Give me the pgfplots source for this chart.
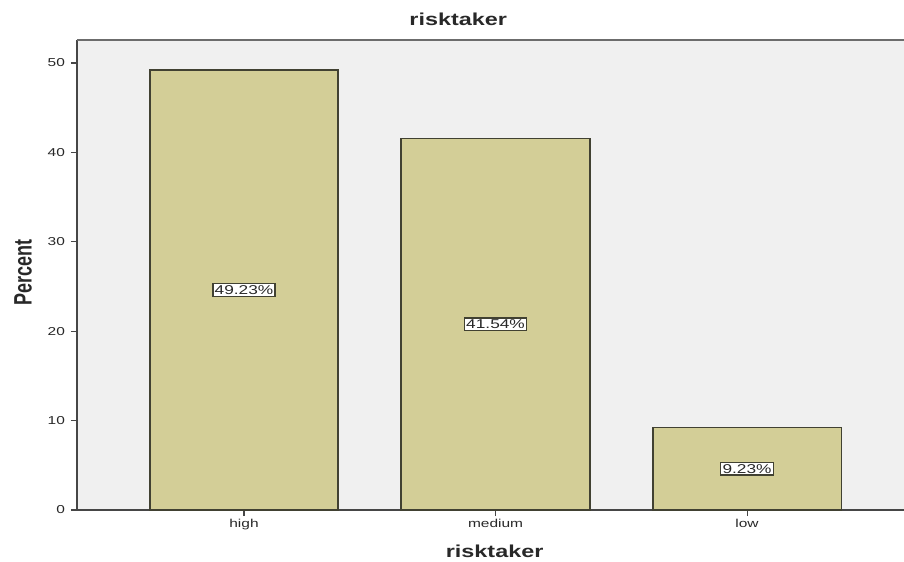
\documentclass[border=0pt]{standalone}
\usepackage{fontspec}
\setmainfont{Liberation Sans}[FakeStretch=1.35]
\newfontfamily\plainsans{Liberation Sans}
\usepackage{graphicx}
\usepackage{pgfplots}
\usepackage{pgfplotstable}
\pgfplotsset{compat=1.18}

\definecolor{barfill}{RGB}{211,206,151}
\definecolor{baredge}{RGB}{65,65,50}
\definecolor{panel}{RGB}{240,240,240}
\definecolor{axisdark}{RGB}{70,70,70}
\definecolor{txt}{RGB}{40,40,40}

% category position and percent
\pgfplotstableread{
x v
0 49.23
1 41.54
2 9.23
}\risk

\begin{document}
\begin{tikzpicture}
\begin{axis}[
  name=main,
  at={(0,0)}, anchor=south west,
  scale only axis,
  width=620.25pt, height=352.5pt,
  xmin=-0.664, xmax=2.624,
  ymin=0, ymax=52.57,
  axis background/.style={fill=panel},
  axis x line*=bottom, axis y line*=left,
  axis line style={axisdark, line width=1pt},
  xtick={0,1,2},
  xticklabels={high,medium,low},
  ytick={0,10,20,30,40,50},
  tick align=outside,
  major tick length=4.5pt,
  tick style={axisdark, line width=0.8pt},
  tick label style={font=\fontsize{8.6}{10}\selectfont, text=txt},
  /pgf/number format/assume math mode=true,
  yticklabel style={xshift=-1pt},
  xticklabel style={yshift=1pt},
  title={risktaker},
  title style={font=\bfseries\fontsize{13}{15}\selectfont, text=txt,
    at={(rel axis cs:0.461,1)}, anchor=base, yshift=4.5pt},
  xlabel={risktaker},
  xlabel style={font=\bfseries\fontsize{13}{15}\selectfont, text=txt,
    at={(rel axis cs:0.505,0)}, anchor=center, yshift=-30.75pt},
  ylabel={\scalebox{1}[1.4]{\plainsans\bfseries\fontsize{13.5}{15}\selectfont Percent}},
  ylabel style={text=txt, at={(axis description cs:-0.0653,0.506)}, anchor=center},
  clip=false,
]
  % bars
  \addplot[ybar, bar width=0.75, fill=barfill, draw=baredge, line width=1.3pt]
    table[x=x, y=v]{\risk};
  % value labels at half bar height
  \addplot[draw=none, mark=none,
    point meta=explicit,
    nodes near coords={\pgfmathprintnumber[fixed, precision=2, fixed zerofill]{\pgfplotspointmeta}\%},
    every node near coord/.append style={anchor=center, fill=white, draw=baredge,
      line width=0.9pt, inner sep=1.3pt, text=txt,
      font=\fontsize{9.6}{11}\selectfont}]
    table[x=x, y expr=\thisrow{v}/2, meta=v]{\risk};
  % upper frame line
  \draw[gray!85!black, line width=1.4pt] (rel axis cs:0,1) -- (rel axis cs:1,1);
\end{axis}
\pgfresetboundingbox
\path (main.south west) ++(-57.75pt,-38.25pt) coordinate (bbsw);
\path (main.north east) ++(0pt,30pt) coordinate (bbne);
\path[use as bounding box] (bbsw) rectangle (bbne);
\end{tikzpicture}
\end{document}
